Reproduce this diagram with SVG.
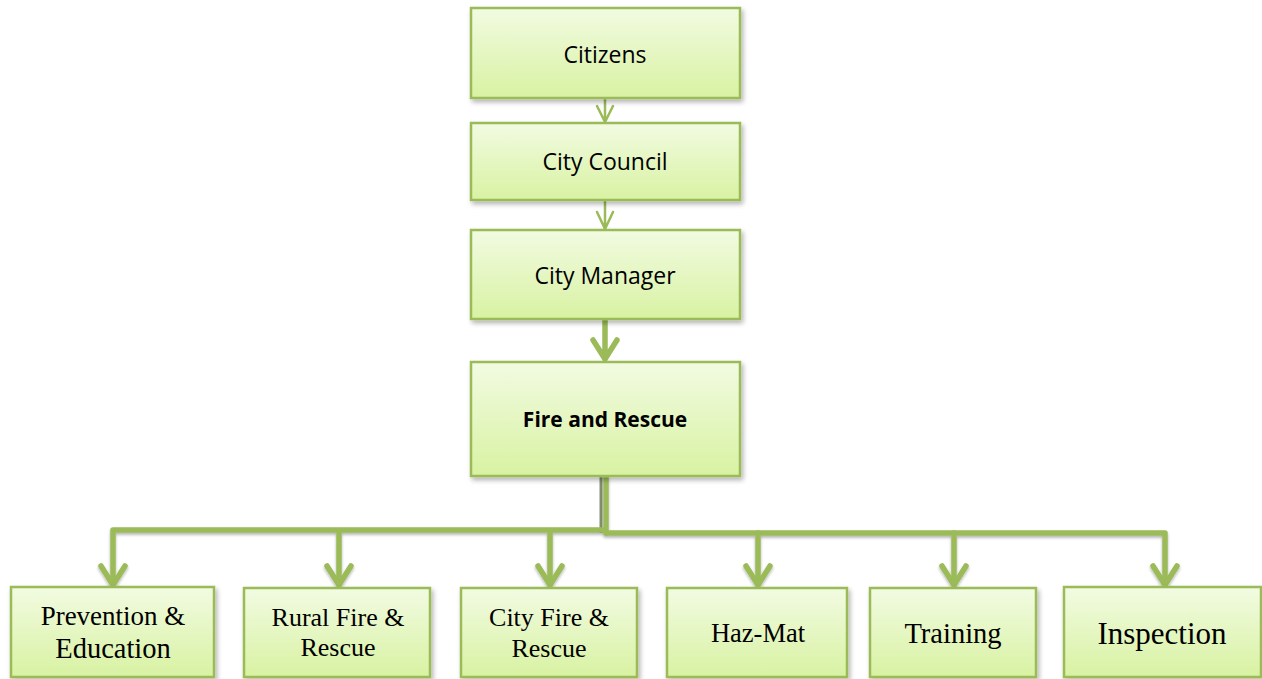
<svg xmlns="http://www.w3.org/2000/svg" width="1262" height="679" viewBox="0 0 1262 679">
  <defs>
    <linearGradient id="boxFill" x1="0" y1="0" x2="0" y2="1">
      <stop offset="0" stop-color="#f2fbe2"/>
      <stop offset="1" stop-color="#d8f2a2"/>
    </linearGradient>
    <filter id="shadow" x="-10%" y="-10%" width="125%" height="130%">
      <feGaussianBlur in="SourceAlpha" stdDeviation="2.5"/>
      <feOffset dx="2" dy="3" result="b"/>
      <feComponentTransfer><feFuncA type="linear" slope="0.3"/></feComponentTransfer>
      <feMerge><feMergeNode/><feMergeNode in="SourceGraphic"/></feMerge>
    </filter>
    <filter id="lineShadow" x="-20%" y="-20%" width="140%" height="160%">
      <feGaussianBlur in="SourceAlpha" stdDeviation="1.5"/>
      <feOffset dx="0" dy="2"/>
      <feComponentTransfer><feFuncA type="linear" slope="0.3"/></feComponentTransfer>
      <feMerge><feMergeNode/><feMergeNode in="SourceGraphic"/></feMerge>
    </filter>
  </defs>
  <style>
    .box { fill: url(#boxFill); stroke: #9bbb59; stroke-width: 2.5; filter: url(#shadow); }
    .sans { font-family: "Open Sans", "Liberation Sans", sans-serif; font-size: 23px; fill: #000; text-anchor: middle; }
    .bold { font-weight: bold; font-size: 21px; }
    .serif { font-family: "Liberation Serif", "Times New Roman", serif; fill: #000; text-anchor: middle; }
    .thin { fill: none; stroke: #9bbb59; stroke-width: 2.5; stroke-linecap: round; stroke-linejoin: round; }
    .thick { fill: none; stroke: #9bbb59; stroke-width: 5.5; stroke-linecap: round; stroke-linejoin: round; }
  </style>

  <rect width="1262" height="679" fill="#ffffff"/>

  <!-- connectors -->
  <g id="connectors">
    <!-- Citizens to City Council -->
    <path class="thin" d="M605 98 V122 M597 106 L605 122 L613 106"/>
    <!-- City Council to City Manager -->
    <path class="thin" d="M605 200 V229 M597 212 L605 229 L613 212"/>
    <!-- City Manager to Fire and Rescue -->
    <path class="thick" d="M605 320 V359 M593 340 L605 359 L617 340"/>
    <!-- trunk shadow -->
    <path d="M601 477 V533" stroke="#4f5f33" stroke-width="3" opacity="0.7" fill="none"/>
    <g filter="url(#lineShadow)">
      <!-- trunk and bus -->
      <path class="thick" d="M606 477 V533"/>
      <path class="thick" d="M113 585 V530 H604"/>
      <path class="thick" d="M606 533 H1165 V585"/>
      <!-- drops -->
      <path class="thick" d="M339 531 V585 M550 531 V585 M758 533 V585 M954 533 V585"/>
      <!-- arrowheads -->
      <path class="thick" d="M101 566 L113 585 L125 566"/>
      <path class="thick" d="M327 566 L339 585 L351 566"/>
      <path class="thick" d="M538 566 L550 585 L562 566"/>
      <path class="thick" d="M746 566 L758 585 L770 566"/>
      <path class="thick" d="M942 566 L954 585 L966 566"/>
      <path class="thick" d="M1153 566 L1165 585 L1177 566"/>
    </g>
  </g>

  <!-- top chain -->
  <g id="citizens">
    <rect class="box" x="471" y="8" width="269" height="90"/>
    <text class="sans" x="605" y="63">Citizens</text>
  </g>
  <g id="city-council">
    <rect class="box" x="471" y="123" width="269" height="77"/>
    <text class="sans" x="605" y="170">City Council</text>
  </g>
  <g id="city-manager">
    <rect class="box" x="471" y="230" width="269" height="89"/>
    <text class="sans" x="605" y="284">City Manager</text>
  </g>
  <g id="fire-and-rescue">
    <rect class="box" x="471" y="362" width="269" height="114"/>
    <text class="sans bold" x="605" y="427">Fire and Rescue</text>
  </g>

  <!-- divisions -->
  <g id="prevention-education">
    <rect class="box" x="11" y="587" width="203" height="90"/>
    <text class="serif" x="113" y="625" font-size="27">Prevention &amp;</text>
    <text class="serif" x="113" y="658" font-size="28.5">Education</text>
  </g>
  <g id="rural-fire-rescue">
    <rect class="box" x="244" y="588" width="186" height="89"/>
    <text class="serif" x="338" y="626" font-size="26">Rural Fire &amp;</text>
    <text class="serif" x="338" y="656" font-size="26">Rescue</text>
  </g>
  <g id="city-fire-rescue">
    <rect class="box" x="461" y="588" width="176" height="89"/>
    <text class="serif" x="549" y="626" font-size="26">City Fire &amp;</text>
    <text class="serif" x="549" y="657" font-size="26">Rescue</text>
  </g>
  <g id="haz-mat">
    <rect class="box" x="667" y="588" width="180" height="89"/>
    <text class="serif" x="758" y="642" font-size="26.5">Haz-Mat</text>
  </g>
  <g id="training">
    <rect class="box" x="870" y="588" width="166" height="89"/>
    <text class="serif" x="953" y="643" font-size="28.5">Training</text>
  </g>
  <g id="inspection">
    <rect class="box" x="1064" y="587" width="197" height="90"/>
    <text class="serif" x="1162" y="644" font-size="31">Inspection</text>
  </g>
</svg>
